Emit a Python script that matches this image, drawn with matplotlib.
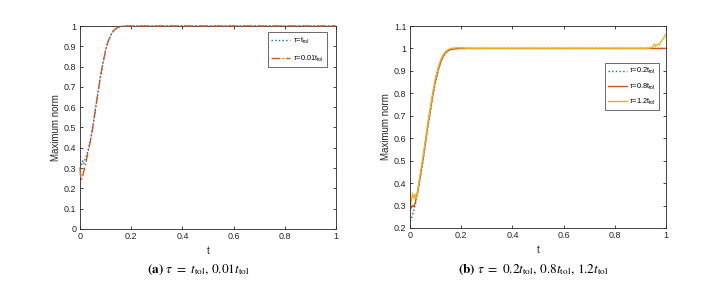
import matplotlib
matplotlib.use("Agg")
import matplotlib.pyplot as plt
from matplotlib.ticker import FuncFormatter

# ---- data ----
ta_blue = [0, 0.005, 0.01, 0.015, 0.02, 0.03, 0.04, 0.05, 0.06, 0.07, 0.08, 0.09, 0.10, 0.11, 0.12, 0.13, 0.14, 0.15, 0.16, 0.18, 0.2, 1.0]
ya_blue = [0.30, 0.31, 0.335, 0.32, 0.345, 0.38, 0.43, 0.51, 0.59, 0.67, 0.75, 0.82, 0.88, 0.925, 0.955, 0.975, 0.987, 0.994, 0.998, 1.0, 1.0, 1.0]
ta_red = [0, 0.003, 0.006, 0.01, 0.02, 0.03, 0.04, 0.05, 0.06, 0.07, 0.08, 0.09, 0.10, 0.11, 0.12, 0.13, 0.14, 0.15, 0.16, 0.18, 0.2, 1.0]
ya_red = [0.30, 0.25, 0.245, 0.26, 0.31, 0.37, 0.43, 0.50, 0.585, 0.67, 0.75, 0.82, 0.88, 0.925, 0.955, 0.975, 0.987, 0.994, 0.998, 1.0, 1.0, 1.0]

tb_blue = [0, 0.005, 0.01, 0.02, 0.03, 0.04, 0.05, 0.06, 0.07, 0.08, 0.09, 0.10, 0.11, 0.12, 0.13, 0.14, 0.15, 0.16, 0.18, 0.2, 1.0]
yb_blue = [0.23, 0.24, 0.26, 0.30, 0.36, 0.42, 0.49, 0.57, 0.65, 0.72, 0.79, 0.85, 0.90, 0.94, 0.965, 0.982, 0.99, 0.996, 0.999, 1.0, 1.0]
tb_red = [0, 0.005, 0.01, 0.015, 0.02, 0.03, 0.04, 0.05, 0.06, 0.07, 0.08, 0.09, 0.10, 0.11, 0.12, 0.13, 0.14, 0.15, 0.16, 0.18, 0.2, 1.0]
yb_red = [0.28, 0.29, 0.30, 0.295, 0.31, 0.36, 0.43, 0.50, 0.58, 0.66, 0.73, 0.80, 0.86, 0.905, 0.94, 0.965, 0.982, 0.99, 0.996, 0.999, 1.0, 1.0]
tb_yel = [0, 0.005, 0.01, 0.015, 0.02, 0.025, 0.03, 0.04, 0.05, 0.06, 0.07, 0.08, 0.09, 0.10, 0.11, 0.12, 0.13, 0.14, 0.15, 0.16, 0.18, 0.2, 0.22, 0.25,
          0.93, 0.945, 0.95, 0.955, 0.96, 0.965, 0.97, 0.975, 0.98, 0.99, 1.0]
yb_yel = [0.28, 0.32, 0.355, 0.33, 0.35, 0.33, 0.37, 0.44, 0.51, 0.59, 0.67, 0.74, 0.81, 0.87, 0.915, 0.95, 0.972, 0.987, 0.995, 1.0, 1.003, 1.003, 1.001, 1.0,
          1.0, 1.005, 1.01, 1.02, 1.01, 1.015, 1.02, 1.015, 1.03, 1.045, 1.065]

xticks = [0, 0.2, 0.4, 0.6, 0.8, 1]
yticks_a = [0, 0.1, 0.2, 0.3, 0.4, 0.5, 0.6, 0.7, 0.8, 0.9, 1]
yticks_b = [0.2, 0.3, 0.4, 0.5, 0.6, 0.7, 0.8, 0.9, 1, 1.1]

C_BLUE = "#0072BD"
C_RED = "#D95319"
C_YEL = "#EDB120"

plt.rcParams["font.family"] = ["Liberation Sans", "DejaVu Sans"]
plt.rcParams["mathtext.fontset"] = "custom"
plt.rcParams["mathtext.rm"] = "Liberation Sans"
plt.rcParams["mathtext.it"] = "Liberation Sans:italic"

fig = plt.figure(figsize=(7.03, 2.87), dpi=100)
axa = fig.add_axes([0.1138, 0.2021, 0.3642, 0.7073])
axb = fig.add_axes([0.5832, 0.2056, 0.3642, 0.7038])

fmt = FuncFormatter(lambda v, p: ("%g" % round(v, 2)))

def style(ax, yt, ylim):
    ax.set_xlim(0, 1)
    ax.set_ylim(*ylim)
    ax.set_xticks(xticks)
    ax.set_yticks(yt)
    ax.xaxis.set_major_formatter(fmt)
    ax.yaxis.set_major_formatter(fmt)
    ax.tick_params(direction="in", length=2.5, width=0.6, labelsize=6.5,
                   top=True, right=True, colors="#262626", pad=2.5)
    for s in ax.spines.values():
        s.set_linewidth(0.6)
        s.set_color("#262626")
    ax.set_xlabel("t", fontsize=7, color="#262626", labelpad=3)
    ax.set_ylabel("Maximum norm", fontsize=7, color="#262626", labelpad=2)

axa.plot(ta_blue, ya_blue, color=C_BLUE, ls=":", lw=1.0, label=r"$\tau$=t$_{\rm tol}$", zorder=3, clip_on=False)
axa.plot(ta_red, ya_red, color=C_RED, ls="-.", lw=1.0, label=r"$\tau$=0.01t$_{\rm tol}$", zorder=3, clip_on=False)
style(axa, yticks_a, (0, 1))
lga = axa.legend(loc="upper right", bbox_to_anchor=(0.965, 0.97), fontsize=5.3,
                 frameon=True, fancybox=False, edgecolor="#262626", handlelength=2.6,
                 borderpad=0.5, labelspacing=1.0, handletextpad=0.3, borderaxespad=0)
lga.get_frame().set_linewidth(0.6)

axb.plot(tb_blue, yb_blue, color=C_BLUE, ls=":", lw=1.0, label=r"$\tau$=0.2t$_{\rm tol}$")
axb.plot(tb_red, yb_red, color=C_RED, ls="-", lw=1.0, label=r"$\tau$=0.8t$_{\rm tol}$")
axb.plot(tb_yel, yb_yel, color=C_YEL, ls="-", lw=1.0, label=r"$\tau$=1.2t$_{\rm tol}$")
style(axb, yticks_b, (0.2, 1.1))
lgb = axb.legend(loc="upper right", bbox_to_anchor=(0.973, 0.817), fontsize=5.3,
                 frameon=True, fancybox=False, edgecolor="#262626", handlelength=2.6,
                 borderpad=0.45, labelspacing=0.7, handletextpad=0.3, borderaxespad=0)
lgb.get_frame().set_linewidth(0.6)

cap = dict(fontsize=9.5, ha="center", va="center", math_fontfamily="stix")
fig.text(198 / 703, 0.059, r"$\mathbf{(a)}\ \tau\ =\ t_{\rm tol},\, 0.01t_{\rm tol}$", **cap)
fig.text(533 / 703, 0.059, r"$\mathbf{(b)}\ \tau\ =\ 0.2t_{\rm tol},\, 0.8t_{\rm tol},\, 1.2t_{\rm tol}$", **cap)

fig.savefig("out.png", dpi=100, facecolor="white")
